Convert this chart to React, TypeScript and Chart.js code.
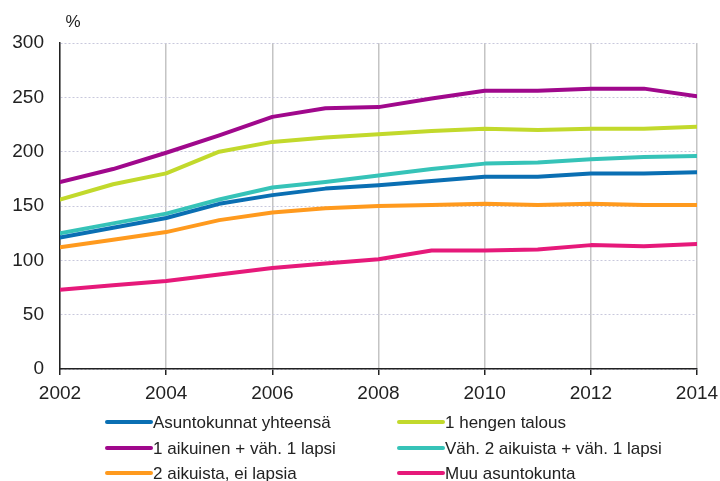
import React, { useEffect, useRef } from "react";
import { Chart, registerables } from "chart.js";

Chart.register(...registerables);

const years = [2002, 2003, 2004, 2005, 2006, 2007, 2008, 2009, 2010, 2011, 2012, 2013, 2014];

const seriesNames = [
  "Asuntokunnat yhteensä",
  "1 hengen talous",
  "1 aikuinen + väh. 1 lapsi",
  "Väh. 2 aikuista + väh. 1 lapsi",
  "2 aikuista, ei lapsia",
  "Muu asuntokunta",
];

const total = [121, 130, 139, 152, 160, 166, 169, 173, 177, 177, 180, 180, 181];
const onePerson = [156, 170, 180, 200, 209, 213, 216, 219, 221, 220, 221, 221, 223];
const singleParent = [172, 184, 199, 215, 232, 240, 241, 249, 256, 256, 258, 258, 251];
const twoAdultsKids = [125, 134, 143, 156, 167, 172, 178, 184, 189, 190, 193, 195, 196];
const twoAdultsNoKids = [112, 119, 126, 137, 144, 148, 150, 151, 152, 151, 152, 151, 151];
const other = [73, 77, 81, 87, 93, 97, 101, 109, 109, 110, 114, 113, 115];

const seriesValues = [total, onePerson, singleParent, twoAdultsKids, twoAdultsNoKids, other];
const seriesColors = ["#0a6fb3", "#c2d92c", "#a0088c", "#36c3b8", "#ff9a1e", "#e6197a"];

const yTicks = [0, 50, 100, 150, 200, 250, 300];
const xTicks = [2002, 2004, 2006, 2008, 2010, 2012, 2014];
const unitLabel = "%";

const FONT = "Arial, 'Liberation Sans', sans-serif";

export default function App() {
  const ref = useRef<HTMLCanvasElement | null>(null);

  useEffect(() => {
    if (!ref.current) return;
    const legendPlugin = {
      id: "customLegend",
      afterDraw(chart: any) {
        const ctx = chart.ctx;
        ctx.save();
        ctx.fillStyle = "#222";
        ctx.font = `17px ${FONT}`;
        ctx.textAlign = "center";
        ctx.textBaseline = "middle";
        ctx.fillText(unitLabel, 73, 22);
        const colX = [105, 397];
        const rowY = [422, 448, 473];
        ctx.textAlign = "left";
        chart.data.datasets.forEach((ds: any, i: number) => {
          const col = i % 2;
          const row = Math.floor(i / 2);
          const x = colX[col];
          const y = rowY[row];
          ctx.strokeStyle = ds.borderColor;
          ctx.lineWidth = 4;
          ctx.lineCap = "round";
          ctx.beginPath();
          ctx.moveTo(x + 2, y);
          ctx.lineTo(x + 46, y);
          ctx.stroke();
          ctx.fillStyle = "#222";
          ctx.font = `17px ${FONT}`;
          ctx.fillText(ds.label, x + 48, y + 1);
        });
        ctx.restore();
      },
    };

    const chart = new Chart(ref.current, {
      type: "line",
      data: {
        datasets: seriesNames.map((name, i) => ({
          label: name,
          data: years.map((yr, j) => ({ x: yr, y: seriesValues[i][j] })),
          borderColor: seriesColors[i],
          backgroundColor: seriesColors[i],
          borderWidth: 4,
          pointRadius: 0,
          tension: 0,
          borderJoinStyle: "round",
          borderCapStyle: "round",
        })),
      },
      options: {
        animation: false,
        responsive: true,
        maintainAspectRatio: false,
        layout: { padding: { top: 43, right: 23, bottom: 77, left: 0 } },
        plugins: {
          legend: { display: false },
          tooltip: { enabled: false },
        },
        scales: {
          x: {
            type: "linear",
            min: 2002,
            max: 2014,
            afterBuildTicks: (scale: any) => {
              scale.ticks = xTicks.map((v) => ({ value: v }));
            },
            afterFit: (scale: any) => {
              scale.height = 35;
              scale.paddingLeft = 0;
              scale.paddingRight = 0;
            },
            ticks: {
              callback: (v: any) => String(v),
              color: "#222",
              font: { size: 19, family: FONT },
              padding: 7,
              maxRotation: 0,
              autoSkip: false,
            },
            grid: {
              color: "#c4c4c4",
              lineWidth: 1.5,
              tickLength: 6,
              tickColor: "#222",
              tickWidth: 1.5,
            },
            border: { color: "#222", width: 1.5 },
          },
          y: {
            min: 0,
            max: 300,
            afterBuildTicks: (scale: any) => {
              scale.ticks = yTicks.map((v) => ({ value: v }));
            },
            afterFit: (scale: any) => {
              scale.width = 60;
              scale.paddingTop = 0;
              scale.paddingBottom = 0;
            },
            ticks: {
              color: "#222",
              font: { size: 19, family: FONT },
              padding: 16,
            },
            grid: {
              color: "#c8c8dc",
              lineWidth: 1,
              drawTicks: false,
            },
            border: { color: "#222", width: 1.5, dash: [2, 2] },
          },
        },
      },
      plugins: [legendPlugin],
    } as any);

    return () => chart.destroy();
  }, []);

  return (
    <div style={{ position: "fixed", left: 0, top: 0, width: 720, height: 481, background: "#fff" }}>
      <canvas ref={ref} />
    </div>
  );
}
